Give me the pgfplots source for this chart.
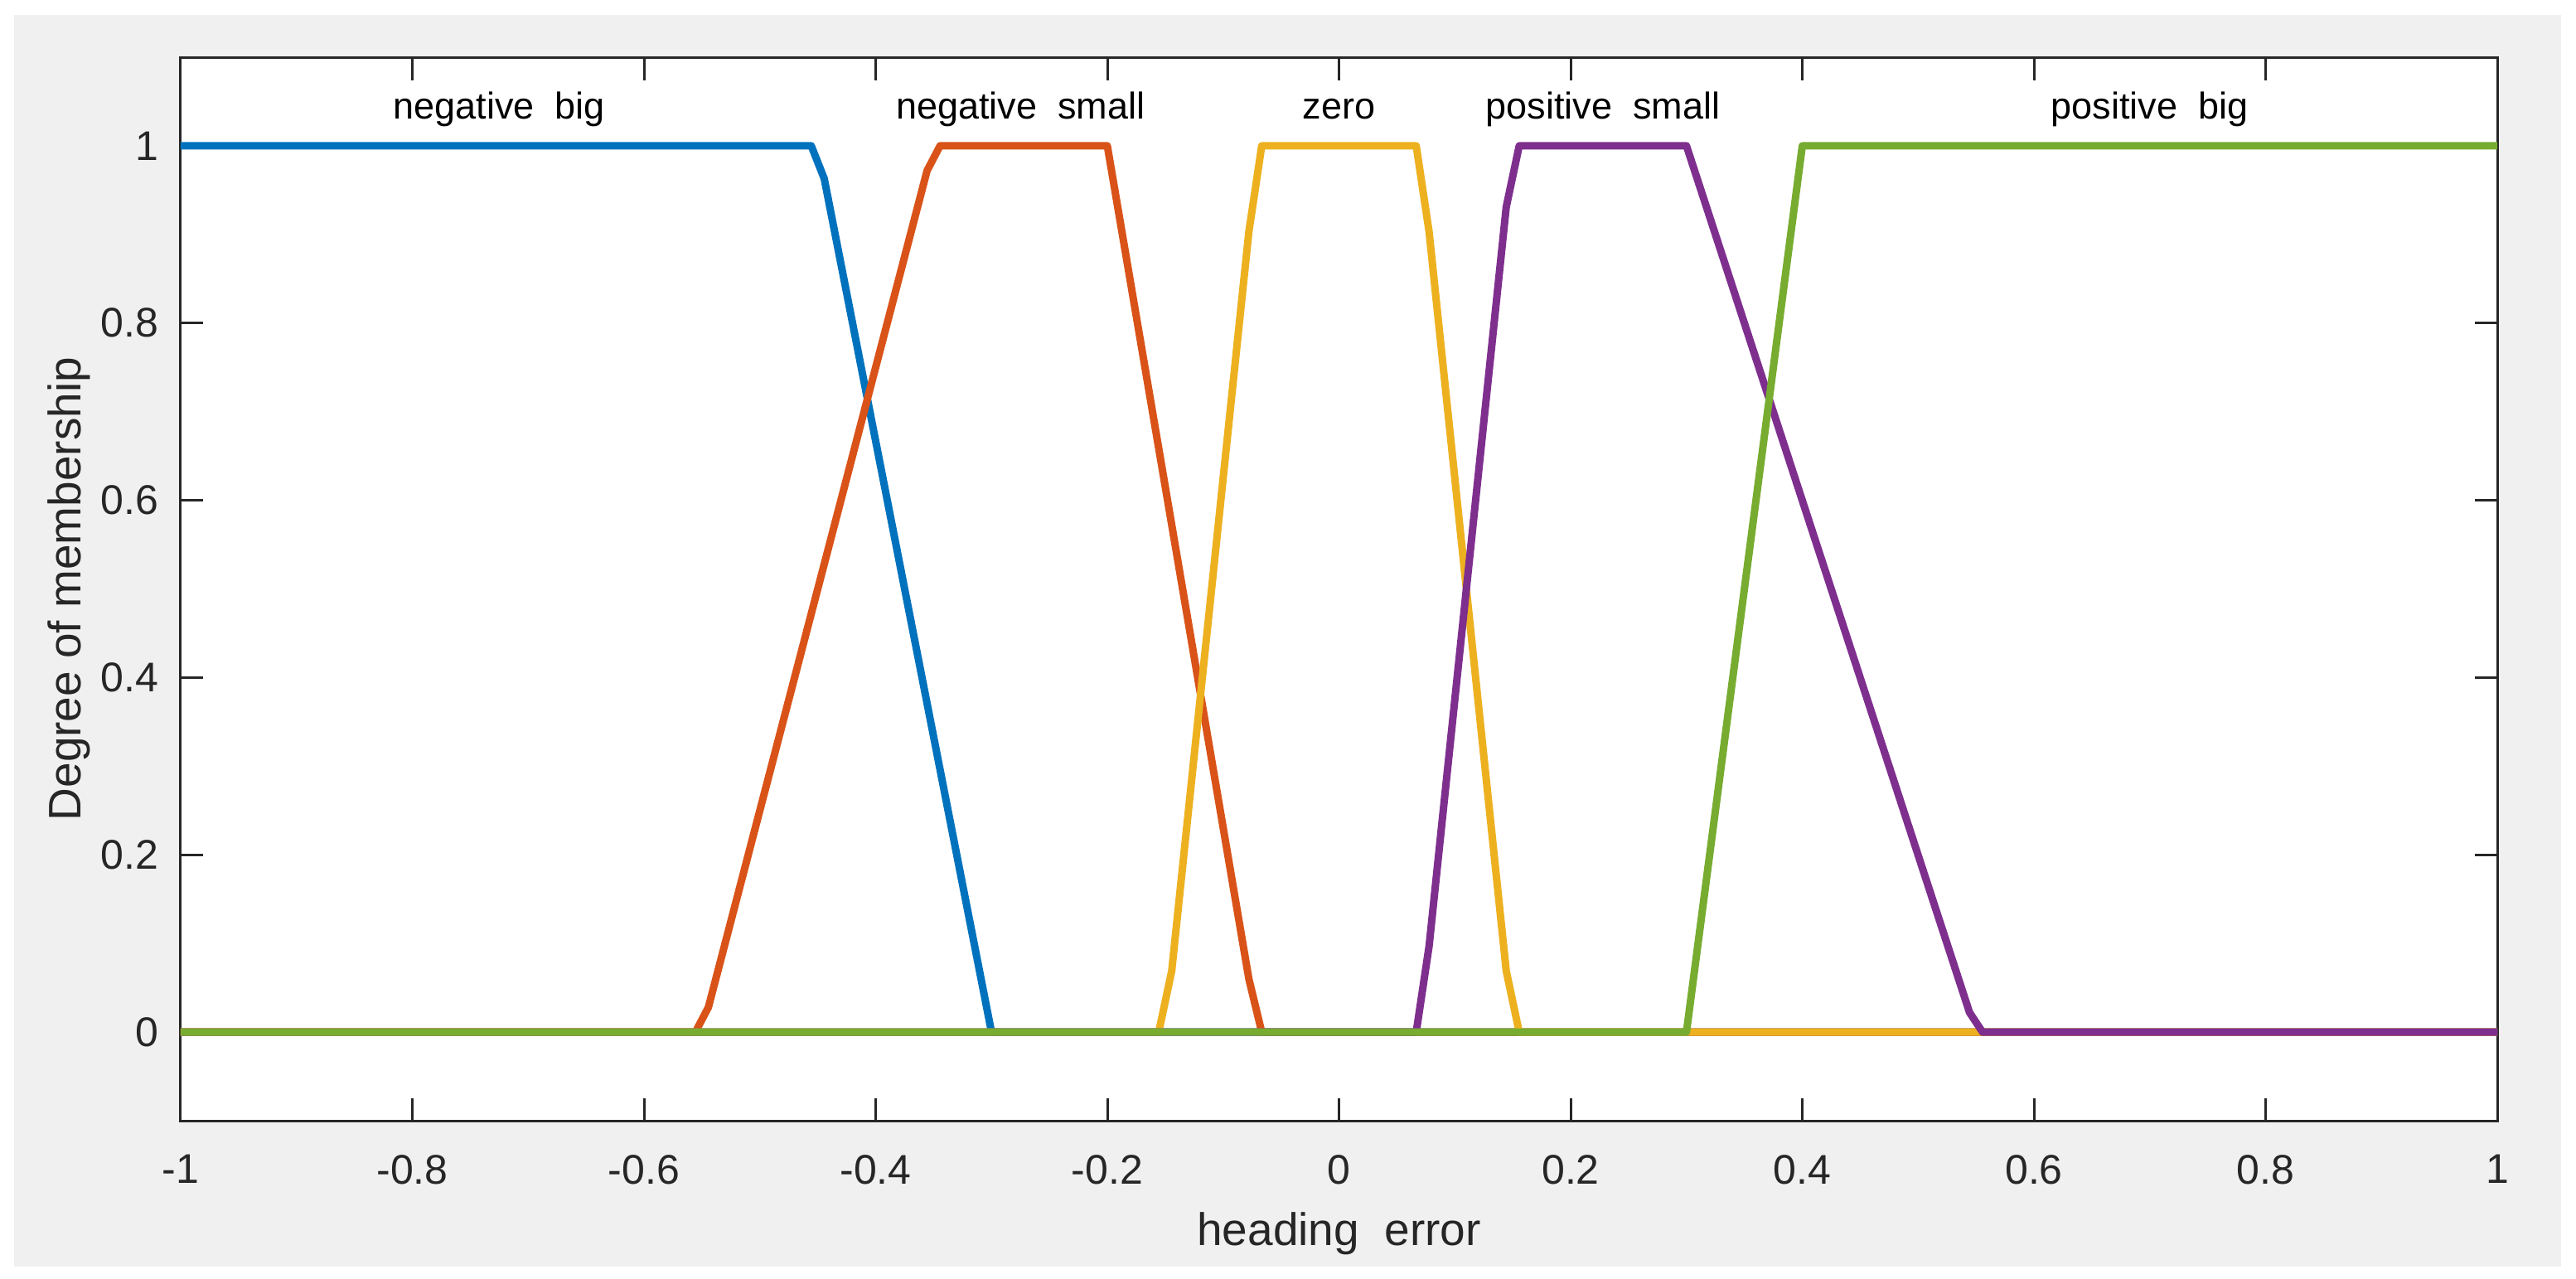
\documentclass[border=0pt]{standalone}
\usepackage{fontspec}
\setmainfont{Liberation Sans}
\usepackage{pgfplots}
\pgfplotsset{compat=1.18}

% MATLAB default line colours
\definecolor{mfblue}{RGB}{0,114,189}
\definecolor{mforange}{RGB}{217,83,25}
\definecolor{mfyellow}{RGB}{237,177,32}
\definecolor{mfpurple}{RGB}{126,47,142}
\definecolor{mfgreen}{RGB}{119,172,48}
\definecolor{figgrey}{RGB}{240,240,240}
\definecolor{axgrey}{RGB}{38,38,38}

\begin{document}
\begin{tikzpicture}
\useasboundingbox (0pt,0pt) rectangle (621.6pt,308.4pt);
\fill[white] (0pt,0pt) rectangle (621.6pt,308.4pt);
\fill[figgrey] (3.4pt,2.8pt) rectangle (618pt,304.8pt);
\begin{axis}[
    at={(43.6pt,38pt)}, anchor=south west,
    scale only axis,
    width=559pt, height=256.6pt,
    xmin=-1, xmax=1,
    ymin=-0.1, ymax=1.1,
    xtick={-1,-0.8,-0.6,-0.4,-0.2,0,0.2,0.4,0.6,0.8,1},
    ytick={0,0.2,0.4,0.6,0.8,1},
    tick pos=both,
    tick align=inside,
    major tick length=5.5pt,
    tick style={axgrey, line width=0.6pt},
    axis line style={axgrey, line width=0.6pt},
    axis background/.style={fill=white},
    /pgf/number format/assume math mode=true,
    ticklabel style={font=\fontsize{10}{12}\selectfont, text=axgrey},
    xticklabel style={yshift=-4.7pt},
    yticklabel style={xshift=-1.9pt},
    xlabel={heading~~error},
    ylabel={Degree of membership},
    xlabel style={at={(axis description cs:0.5,0)}, anchor=base, yshift=-30pt,
                  font=\fontsize{11}{13}\selectfont, text=axgrey},
    ylabel style={at={(axis description cs:0,0.5)}, anchor=base, yshift=24pt,
                  font=\fontsize{11}{13}\selectfont, text=axgrey},
    no markers,
    every axis plot/.append style={line width=1.8pt, line join=round},
]
% negative big
\addplot[mfblue] coordinates {
(-1,1) (-0.4556,1) (-0.4444,0.963) (-0.3,0) (1,0)
};
% negative small
\addplot[mforange] coordinates {
(-1,0) (-0.5556,0) (-0.5444,0.028) (-0.3556,0.972) (-0.3444,1) (-0.2,1) (-0.0778,0.060) (-0.0667,0) (1,0)
};
% zero
\addplot[mfyellow] coordinates {
(-1,0) (-0.1556,0) (-0.1444,0.069) (-0.0778,0.903) (-0.0667,1) (0.0667,1) (0.0778,0.903) (0.1444,0.069) (0.1556,0) (1,0)
};
% positive small
\addplot[mfpurple] coordinates {
(-1,0) (0.0667,0) (0.0778,0.097) (0.1444,0.931) (0.1556,1) (0.3,1) (0.5444,0.022) (0.5556,0) (1,0)
};
% positive big
\addplot[mfgreen] coordinates {
(-1,0) (0.3,0) (0.4,1) (1,1)
};

\begin{scope}[every node/.style={anchor=base, font=\fontsize{9}{10}\selectfont, text=black, inner sep=0pt}]
\node at (axis cs:-0.725,1.03) {negative~~big};
\node at (axis cs:-0.275,1.03) {negative~~small};
\node at (axis cs:0,1.03) {zero};
\node at (axis cs:0.228,1.03) {positive~~small};
\node at (axis cs:0.7,1.03) {positive~~big};
\end{scope}
\end{axis}
\end{tikzpicture}
\end{document}
